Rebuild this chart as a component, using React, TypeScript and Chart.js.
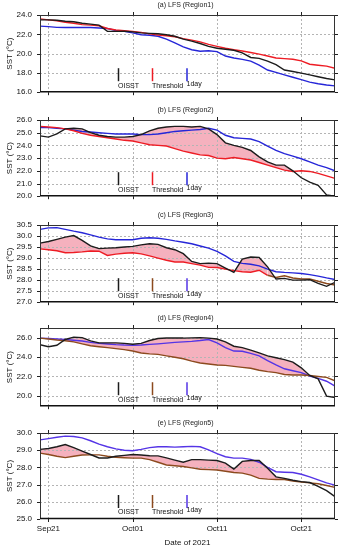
import React, { useEffect, useRef } from 'react';
import { Chart, registerables } from 'chart.js';

Chart.register(...registerables);

const FONT = '"Liberation Sans", Arial, Helvetica, sans-serif';

// x values: day index counted from Sep 20, 2021
const DAYS = [0, 1, 2, 3, 4, 5, 6, 7, 8, 9, 10, 11, 12, 13, 14, 15, 16, 17, 18, 19, 20, 21, 22, 23, 24, 25, 26, 27, 28, 29, 30, 31, 32, 33, 34, 35];
const X_TICK_DAYS = [1, 11, 21, 31];
const X_TICK_LABELS = ['Sep21', 'Oct01', 'Oct11', 'Oct21'];

const TITLES = ['(a) LFS (Region1)', '(b) LFS (Region2)', '(c) LFS (Region3)', '(d) LFS (Region4)', '(e) LFS (Region5)'];
const LEGEND_LABELS = ['OISST', 'Threshold', '1day'];

const OISST_A = [23.5, 23.5, 23.45, 23.35, 23.3, 23.15, 23.05, 22.95, 22.3, 22.3, 22.32, 22.25, 22.15, 22.1, 22.05, 21.95, 21.8, 21.5, 21.3, 21.05, 20.75, 20.55, 20.45, 20.35, 20.08, 19.6, 19.5, 19.22, 18.85, 18.3, 18.15, 17.98, 17.8, 17.6, 17.42, 17.28];
const THRESH_A = [23.6, 23.5, 23.4, 23.25, 23.15, 23.0, 22.95, 22.88, 22.6, 22.45, 22.38, 22.3, 22.2, 22.05, 21.92, 21.85, 21.75, 21.55, 21.4, 21.22, 20.95, 20.75, 20.55, 20.4, 20.27, 20.12, 19.95, 19.75, 19.55, 19.48, 19.42, 19.24, 18.9, 18.8, 18.7, 18.48];
const ONEDAY_A = [22.85, 22.8, 22.72, 22.7, 22.7, 22.7, 22.7, 22.65, 22.6, 22.4, 22.3, 22.15, 21.95, 21.9, 21.8, 21.5, 21.1, 20.7, 20.4, 20.25, 20.3, 20.2, 19.75, 19.55, 19.4, 19.22, 18.8, 18.3, 18.05, 17.8, 17.55, 17.3, 17.05, 16.88, 16.75, 16.65];

const OISST_B = [24.75, 24.65, 24.9, 25.3, 25.35, 25.3, 25.0, 24.8, 24.7, 24.65, 24.65, 24.7, 24.85, 25.15, 25.35, 25.45, 25.5, 25.5, 25.45, 25.5, 25.3, 24.85, 24.2, 24.0, 23.85, 23.6, 23.1, 22.7, 22.45, 22.45, 22.0, 21.45, 21.1, 20.85, 20.1, 20.0];
const THRESH_B = [25.5, 25.45, 25.4, 25.3, 25.15, 24.95, 24.8, 24.7, 24.6, 24.5, 24.4, 24.35, 24.2, 24.05, 24.0, 23.95, 23.75, 23.55, 23.4, 23.25, 23.2, 23.0, 22.95, 23.05, 22.95, 22.85, 22.65, 22.45, 22.25, 22.05, 21.95, 22.0, 21.95, 21.8, 21.6, 21.4];
const ONEDAY_B = [25.4, 25.4, 25.35, 25.3, 25.2, 25.1, 25.05, 25.0, 24.95, 24.9, 24.9, 24.9, 24.85, 24.85, 24.9, 25.0, 25.1, 25.15, 25.2, 25.25, 25.35, 25.2, 24.8, 24.6, 24.55, 24.5, 24.3, 23.95, 23.6, 23.35, 23.15, 22.95, 22.7, 22.45, 22.25, 22.0];

const OISST_C = [29.68, 29.75, 29.85, 29.95, 30.02, 29.8, 29.55, 29.43, 29.45, 29.47, 29.5, 29.53, 29.6, 29.65, 29.62, 29.47, 29.38, 29.2, 28.85, 28.75, 28.77, 28.75, 28.55, 28.35, 28.95, 29.05, 29.03, 28.6, 28.05, 28.08, 28.0, 28.0, 28.02, 27.85, 27.72, 27.9];
const THRESH_C = [29.42, 29.38, 29.33, 29.24, 29.25, 29.28, 29.32, 29.31, 29.12, 29.18, 29.22, 29.24, 29.19, 29.1, 29.0, 28.9, 28.82, 28.82, 28.75, 28.68, 28.58, 28.57, 28.5, 28.43, 28.38, 28.36, 28.45, 28.22, 28.12, 28.2, 28.1, 28.05, 28.05, 27.95, 27.85, 27.78];
const ONEDAY_C = [30.3, 30.37, 30.38, 30.3, 30.22, 30.15, 30.05, 29.95, 29.87, 29.83, 29.83, 29.83, 29.9, 29.92, 29.9, 29.85, 29.78, 29.72, 29.65, 29.55, 29.45, 29.3, 29.1, 28.85, 28.76, 28.72, 28.65, 28.5, 28.38, 28.35, 28.33, 28.3, 28.25, 28.18, 28.1, 28.03];

const OISST_D = [25.3, 25.1, 25.25, 25.85, 26.1, 26.05, 25.7, 25.5, 25.5, 25.5, 25.45, 25.35, 25.45, 25.75, 25.95, 26.0, 26.0, 26.0, 26.02, 26.05, 26.0, 25.9, 25.6, 25.15, 25.0, 24.75, 24.45, 24.15, 23.95, 23.75, 23.5, 22.9, 22.1, 21.75, 19.95, 19.8];
const THRESH_D = [26.0, 25.9, 25.8, 25.72, 25.6, 25.4, 25.2, 25.1, 25.0, 24.9, 24.8, 24.65, 24.45, 24.35, 24.3, 24.15, 24.0, 23.85, 23.6, 23.4, 23.3, 23.2, 23.15, 23.05, 22.95, 22.85, 22.65, 22.5, 22.4, 22.2, 22.15, 22.15, 22.1, 22.0, 21.9, 21.55];
const ONEDAY_D = [26.0, 25.95, 25.9, 25.85, 25.78, 25.7, 25.55, 25.45, 25.38, 25.32, 25.28, 25.26, 25.28, 25.34, 25.4, 25.47, 25.55, 25.6, 25.66, 25.74, 25.85, 25.5, 25.0, 24.65, 24.62, 24.4, 24.14, 23.65, 23.2, 22.8, 22.6, 22.4, 22.05, 21.8, 21.5, 21.0];

const OISST_E = [29.05, 29.1, 29.2, 29.33, 29.15, 28.95, 28.75, 28.55, 28.55, 28.65, 28.7, 28.75, 28.72, 28.68, 28.67, 28.55, 28.42, 28.3, 28.45, 28.45, 28.42, 28.4, 28.25, 27.9, 28.35, 28.4, 28.4, 27.95, 27.45, 27.36, 27.25, 27.17, 27.12, 26.9, 26.65, 26.3];
const THRESH_E = [28.83, 28.75, 28.65, 28.57, 28.65, 28.72, 28.73, 28.73, 28.65, 28.59, 28.56, 28.54, 28.54, 28.45, 28.3, 28.14, 28.1, 28.05, 27.97, 27.89, 27.87, 27.85, 27.78, 27.7, 27.67, 27.55, 27.36, 27.32, 27.3, 27.3, 27.2, 27.15, 27.1, 27.05, 26.95, 26.84];
const ONEDAY_E = [29.6, 29.67, 29.75, 29.82, 29.8, 29.72, 29.55, 29.35, 29.2, 29.08, 29.0, 28.97, 29.05, 29.15, 29.2, 29.2, 29.18, 29.2, 29.22, 29.2, 29.02, 28.8, 28.62, 28.54, 28.54, 28.47, 28.3, 28.0, 27.75, 27.72, 27.7, 27.6, 27.45, 27.27, 27.1, 26.97];

const Y_TICKS_A = [16, 18, 20, 22, 24];
const Y_TICKS_B = [20, 21, 22, 23, 24, 25, 26];
const Y_TICKS_C = [27, 27.5, 28, 28.5, 29, 29.5, 30, 30.5];
const Y_TICKS_D = [20, 22, 24, 26];
const Y_TICKS_E = [25, 26, 27, 28, 29, 30];

const Y_RANGES = [[16, 24], [20, 26], [27, 30.5], [18.9, 27.05], [25, 30]];

// styles
const BLACK = '#1c1c1c';
const RED = '#ee1c24';
const BLUE = '#2626d8';
const BROWN = '#8c4a1e';
const VIOLET = '#5434e6';
const PINK = '#f5b1be';
const GRID = '#b4b4b4';

type Spec = {
  title: string;
  oisst: number[];
  thr: number[];
  day1: number[];
  yRange: number[];
  yTicks: number[];
  thrColor: string;
  thrLateColor: string | null;
  thrLateFrom: number;
  thrLegend: string;
  dayColor: string;
  dayLegend: string;
  fill: boolean;
  showX: boolean;
  top: number;
  areaH: number;
  xAxisH: number;
};

const PANELS: Spec[] = [
  { title: TITLES[0], oisst: OISST_A, thr: THRESH_A, day1: ONEDAY_A, yRange: Y_RANGES[0], yTicks: Y_TICKS_A, thrColor: RED, thrLateColor: null, thrLateFrom: 0, thrLegend: RED, dayColor: BLUE, dayLegend: BLUE, fill: false, showX: false, top: 15, areaH: 84, xAxisH: 6 },
  { title: TITLES[1], oisst: OISST_B, thr: THRESH_B, day1: ONEDAY_B, yRange: Y_RANGES[1], yTicks: Y_TICKS_B, thrColor: RED, thrLateColor: null, thrLateFrom: 0, thrLegend: RED, dayColor: BLUE, dayLegend: BLUE, fill: true, showX: false, top: 120, areaH: 83, xAxisH: 6 },
  { title: TITLES[2], oisst: OISST_C, thr: THRESH_C, day1: ONEDAY_C, yRange: Y_RANGES[2], yTicks: Y_TICKS_C, thrColor: RED, thrLateColor: BROWN, thrLateFrom: 27, thrLegend: BROWN, dayColor: BLUE, dayLegend: VIOLET, fill: true, showX: false, top: 225, areaH: 84, xAxisH: 6 },
  { title: TITLES[3], oisst: OISST_D, thr: THRESH_D, day1: ONEDAY_D, yRange: Y_RANGES[3], yTicks: Y_TICKS_D, thrColor: BROWN, thrLateColor: null, thrLateFrom: 0, thrLegend: BROWN, dayColor: VIOLET, dayLegend: VIOLET, fill: true, showX: false, top: 328, areaH: 85, xAxisH: 6 },
  { title: TITLES[4], oisst: OISST_E, thr: THRESH_E, day1: ONEDAY_E, yRange: Y_RANGES[4], yTicks: Y_TICKS_E, thrColor: BROWN, thrLateColor: null, thrLateFrom: 0, thrLegend: BROWN, dayColor: VIOLET, dayLegend: VIOLET, fill: true, showX: true, top: 433, areaH: 86, xAxisH: 31 },
];

const PAD_TOP = 15;
const LEG_X = [118.5, 152.5, 187];

function makeDecor(p: Spec) {
  return {
    id: 'decor',
    beforeDatasetsDraw(chart: any) {
      const { ctx, chartArea: ca, scales } = chart;
      const x = scales.x;
      const y = scales.y;
      ctx.save();
      ctx.strokeStyle = GRID;
      ctx.lineWidth = 1;
      ctx.setLineDash([2, 2]);
      ctx.beginPath();
      for (const v of p.yTicks) {
        const py = Math.round(y.getPixelForValue(v)) + 0.5;
        if (py < ca.top + 2 || py > ca.bottom - 2) continue;
        ctx.moveTo(ca.left, py);
        ctx.lineTo(ca.right, py);
      }
      for (const d of X_TICK_DAYS) {
        const px = Math.round(x.getPixelForValue(d)) + 0.5;
        ctx.moveTo(px, ca.top);
        ctx.lineTo(px, ca.bottom);
      }
      ctx.stroke();
      ctx.restore();
    },
    afterDraw(chart: any) {
      const { ctx, chartArea: ca, scales } = chart;
      const x = scales.x;
      const y = scales.y;
      ctx.save();
      // frame
      ctx.strokeStyle = '#333';
      ctx.lineWidth = 1;
      ctx.strokeRect(Math.round(ca.left) + 0.5, Math.round(ca.top) + 0.5, Math.round(ca.right - ca.left) - 1, Math.round(ca.bottom - ca.top) - 1);
      ctx.strokeStyle = '#111';
      ctx.lineWidth = 1.6;
      ctx.beginPath();
      ctx.moveTo(ca.left, ca.bottom - 0.5);
      ctx.lineTo(ca.right, ca.bottom - 0.5);
      ctx.stroke();
      // tick marks
      ctx.lineWidth = 1;
      ctx.strokeStyle = '#222';
      ctx.beginPath();
      for (const d of X_TICK_DAYS) {
        const px = Math.round(x.getPixelForValue(d)) + 0.5;
        ctx.moveTo(px, ca.bottom);
        ctx.lineTo(px, ca.bottom + 3);
        ctx.moveTo(px, ca.top);
        ctx.lineTo(px, ca.top - 3);
      }
      for (const v of p.yTicks) {
        const py = Math.round(y.getPixelForValue(v)) + 0.5;
        ctx.moveTo(ca.left, py);
        ctx.lineTo(ca.left - 3, py);
        ctx.moveTo(ca.right, py);
        ctx.lineTo(ca.right + 3, py);
      }
      ctx.stroke();
      // legend
      const colors = [BLACK, p.thrLegend, p.dayLegend];
      ctx.lineWidth = 1.5;
      for (let i = 0; i < 3; i++) {
        ctx.strokeStyle = colors[i];
        ctx.beginPath();
        ctx.moveTo(LEG_X[i], ca.bottom - 24);
        ctx.lineTo(LEG_X[i], ca.bottom - 11);
        ctx.stroke();
      }
      ctx.fillStyle = '#111';
      ctx.font = `7px ${FONT}`;
      ctx.textAlign = 'left';
      ctx.textBaseline = 'middle';
      ctx.fillText(LEGEND_LABELS[0], LEG_X[0] - 0.5, ca.bottom - 6.5);
      ctx.fillText(LEGEND_LABELS[1], LEG_X[1] - 0.5, ca.bottom - 6.5);
      ctx.fillText(LEGEND_LABELS[2], LEG_X[2] - 0.5, ca.bottom - 8.5);
      // title
      ctx.fillStyle = '#222';
      ctx.textAlign = 'center';
      ctx.font = `7px ${FONT}`;
      ctx.fillText(p.title, (ca.left + ca.right) / 2 - 2, ca.top - 9.5);
      // y-axis title
      ctx.save();
      ctx.translate(10, (ca.top + ca.bottom) / 2);
      ctx.rotate(-Math.PI / 2);
      ctx.font = `8px ${FONT}`;
      ctx.fillStyle = '#111';
      ctx.fillText('SST (°C)', 0, 0);
      ctx.restore();
      if (p.showX) {
        ctx.font = `8px ${FONT}`;
        ctx.fillStyle = '#111';
        ctx.fillText('Date of 2021', (ca.left + ca.right) / 2, ca.bottom + 24);
      }
      ctx.restore();
    },
  };
}

function Panel({ p }: { p: Spec }) {
  const ref = useRef<HTMLCanvasElement | null>(null);
  const H = PAD_TOP + p.areaH + p.xAxisH;
  useEffect(() => {
    if (!ref.current) return;
    const pts = (arr: number[]) => DAYS.map((d, i) => ({ x: d, y: arr[i] }));
    const chart = new Chart(ref.current, {
      type: 'line',
      data: {
        datasets: [
          {
            label: LEGEND_LABELS[0],
            data: pts(p.oisst),
            borderColor: BLACK,
            borderWidth: 1.4,
            pointRadius: 0,
            tension: 0,
            fill: p.fill ? { target: 1, above: PINK, below: 'rgba(0,0,0,0)' } : false,
          },
          {
            label: LEGEND_LABELS[1],
            data: pts(p.thr),
            borderColor: p.thrColor,
            borderWidth: 1.4,
            pointRadius: 0,
            tension: 0,
            fill: false,
            segment: p.thrLateColor
              ? { borderColor: (c: any) => (c.p0DataIndex >= p.thrLateFrom ? p.thrLateColor : p.thrColor) }
              : undefined,
          },
          {
            label: LEGEND_LABELS[2],
            data: pts(p.day1),
            borderColor: p.dayColor,
            borderWidth: 1.4,
            pointRadius: 0,
            tension: 0,
            fill: false,
          },
        ],
      } as any,
      options: {
        responsive: false,
        animation: false,
        events: [],
        layout: { padding: { top: PAD_TOP, left: 0, right: 7, bottom: 0 } },
        plugins: {
          legend: { display: false },
          title: { display: false },
          tooltip: { enabled: false },
          filler: { drawTime: 'beforeDatasetsDraw' },
        },
        scales: {
          x: {
            type: 'linear',
            min: DAYS[0],
            max: DAYS[DAYS.length - 1],
            afterBuildTicks: (s: any) => {
              s.ticks = X_TICK_DAYS.map((v) => ({ value: v }));
            },
            afterFit: (s: any) => {
              s.height = p.xAxisH;
            },
            ticks: {
              display: p.showX,
              autoSkip: false,
              maxRotation: 0,
              padding: 5,
              color: '#111',
              font: { family: FONT, size: 8 },
              callback: (v: any) => {
                const i = X_TICK_DAYS.indexOf(Number(v));
                return i >= 0 ? X_TICK_LABELS[i] : '';
              },
            },
            grid: { display: false, drawTicks: false },
            border: { display: false },
          },
          y: {
            type: 'linear',
            min: p.yRange[0],
            max: p.yRange[1],
            afterBuildTicks: (s: any) => {
              s.ticks = p.yTicks.map((v) => ({ value: v }));
            },
            afterFit: (s: any) => {
              s.width = 40;
            },
            ticks: {
              autoSkip: false,
              padding: 8,
              color: '#111',
              font: { family: FONT, size: 8 },
              callback: (v: any) => Number(v).toFixed(1),
            },
            grid: { display: false, drawTicks: false },
            border: { display: false },
          },
        },
      } as any,
      plugins: [makeDecor(p)],
    });
    return () => chart.destroy();
  }, [p]);
  return (
    <canvas
      ref={ref}
      width={342}
      height={H}
      style={{ position: 'absolute', left: 0, top: p.top - PAD_TOP, width: 342, height: H }}
    />
  );
}

export default function App() {
  return (
    <div style={{ position: 'absolute', left: 0, top: 0, width: 342, height: 550, background: '#fff' }}>
      {PANELS.map((p, i) => (
        <Panel key={i} p={p} />
      ))}
    </div>
  );
}
